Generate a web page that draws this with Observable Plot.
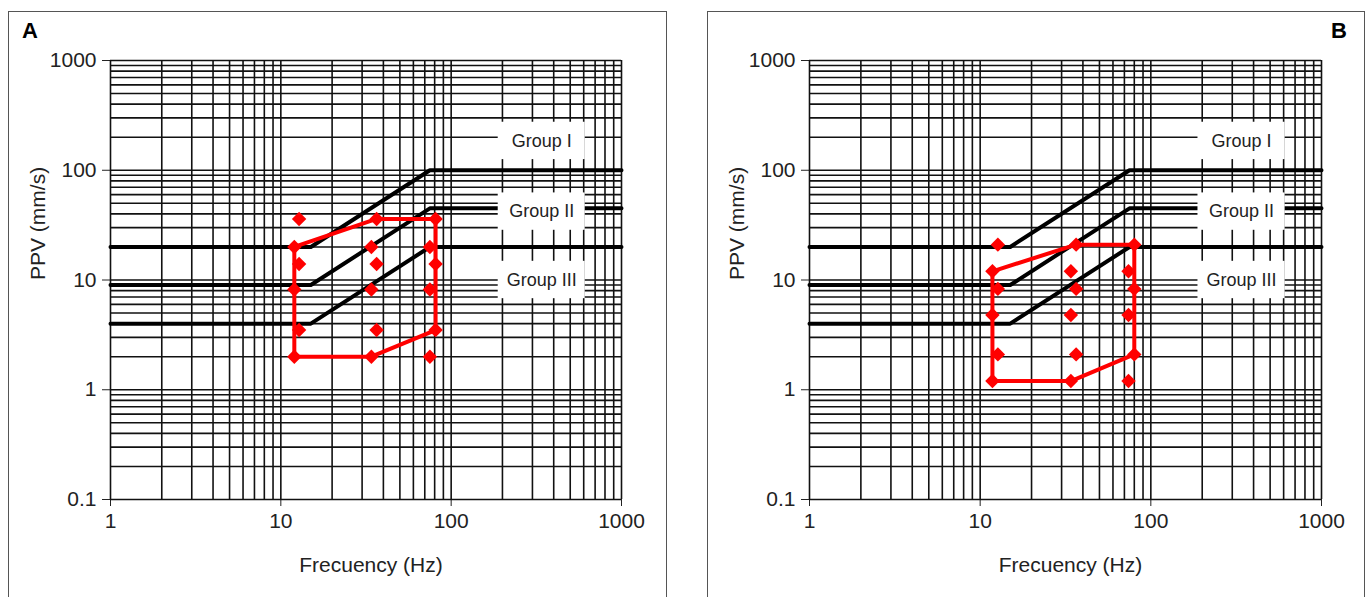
<!DOCTYPE html>
<html><head><meta charset="utf-8">
<script src="https://cdn.jsdelivr.net/npm/d3@7"></script>
<script src="https://cdn.jsdelivr.net/npm/@observablehq/plot@0.6"></script>
<style>
body{margin:0;background:#fff;width:1368px;height:597px;overflow:hidden;position:relative;font-family:"Liberation Sans",Arial,sans-serif;}
.frame{position:absolute;border:1px solid #555;box-sizing:border-box;}
.tag{position:absolute;font-weight:bold;font-size:22px;line-height:22px;color:#000;}
.chart{position:absolute;top:0;}
</style></head><body>
<div class="frame" style="left:8px;top:11px;width:659px;height:700px"></div>
<div class="frame" style="left:707px;top:11px;width:658px;height:700px"></div>
<div class="tag" style="left:22px;top:20px">A</div>
<div class="tag" style="left:1331px;top:20px">B</div>
<div id="a" class="chart" style="left:0px"></div>
<div id="b" class="chart" style="left:700px"></div>
<script>
// Limit curves (UNE 22381 style)
const groups = ["Group I", "Group II", "Group III"];
const limitFreq = [1, 15, 75, 1000];
const groupI_ppv = [20, 20, 100, 100];
const groupII_ppv = [9, 9, 45, 45];
const groupIII_ppv = [4, 4, 20, 20];
const labelFreq = 340;
const labelPPV = [185, 42, 10];

const xTickValues = [1, 10, 100, 1000];
const yTickValues = [0.1, 1, 10, 100, 1000];
const xLabel = "Frecuency (Hz)";
const yLabel = "PPV (mm/s)";

// Panel A
const pointsA_freq = [12.8, 12, 12.8, 12, 12.8, 12, 36.5, 34, 36.5, 34, 36.5, 34, 81, 75, 81, 75, 81, 75];
const pointsA_ppv  = [36, 20, 14, 8.2, 3.5, 2, 36, 20, 14, 8.2, 3.5, 2, 36, 20, 14, 8.2, 3.5, 2];
const polyA_freq = [12, 36.5, 81, 81, 34, 12, 12];
const polyA_ppv  = [20, 36, 36, 3.5, 2, 2, 20];

// Panel B
const pointsB_freq = [12.7, 11.8, 12.7, 11.8, 12.7, 11.8, 36.5, 34, 36.5, 34, 36.5, 34, 80, 74, 80, 74, 80, 74];
const pointsB_ppv  = [21, 12, 8.3, 4.8, 2.1, 1.2, 21, 12, 8.3, 4.8, 2.1, 1.2, 21, 12, 8.3, 4.8, 2.1, 1.2];
const polyB_freq = [11.8, 36.5, 80, 80, 34, 11.8, 11.8];
const polyB_ppv  = [12, 21, 21, 2.1, 1.2, 1.2, 12];

function chart({width, marginLeft, marginRight, ptsF, ptsP, polyF, polyP}) {
  const limits = [];
  [groupI_ppv, groupII_ppv, groupIII_ppv].forEach((arr, g) =>
    limitFreq.forEach((f, i) => limits.push({group: groups[g], f, v: arr[i]})));
  const labels = groups.map((g, i) => ({g, f: labelFreq, v: labelPPV[i]}));
  const pts = ptsF.map((f, i) => ({f, v: ptsP[i]}));
  const poly = polyF.map((f, i) => ({f, v: polyP[i]}));
  const xGrid = d3.scaleLog().domain([1, 1000]).ticks(40);
  const yGrid = d3.scaleLog().domain([0.1, 1000]).ticks(60);
  return Plot.plot({
    width, height: 597, marginLeft, marginRight, marginTop: 60, marginBottom: 98,
    style: {background: "transparent", fontFamily: "'Liberation Sans', Arial, sans-serif", fontSize: "21px", color: "#222", overflow: "visible"},
    x: {type: "log", domain: [1, 1000], ticks: xTickValues, tickFormat: d => String(d), tickSize: 7, tickPadding: 7, label: null},
    y: {type: "log", domain: [0.1, 1000], ticks: yTickValues, tickFormat: d => String(d), tickSize: 8, tickPadding: 6, label: null},
    marks: [
      Plot.ruleX(xGrid, {stroke: "#111", strokeWidth: 1.6}),
      Plot.ruleY(yGrid, {stroke: "#111", strokeWidth: 1.6}),
      Plot.line(limits, {x: "f", y: "v", z: "group", stroke: "#000", strokeWidth: 4}),
      Plot.rect(labels, {x1: d => d.f / 1.8, x2: d => d.f * 1.8, y1: d => d.v / 1.48, y2: d => d.v * 1.48, fill: "white"}),
      Plot.text(labels, {x: "f", y: "v", text: "g", fontSize: 18, fill: "#222"}),
      Plot.line(poly, {x: "f", y: "v", stroke: "#ff0000", strokeWidth: 4, strokeLinejoin: "round"}),
      Plot.dot(pts, {x: "f", y: "v", symbol: "diamond2", r: 6.5, fill: "#ff0000"}),
      Plot.text([xLabel], {text: d => d, frameAnchor: "bottom", dy: 72, dx: 5, fontSize: 21, fill: "#222"}),
      Plot.text([yLabel], {text: d => d, frameAnchor: "left", dx: -72, rotate: -90, fontSize: 21, fill: "#222"})
    ]
  });
}

document.getElementById("a").append(chart({width: 680, marginLeft: 110, marginRight: 59,
  ptsF: pointsA_freq, ptsP: pointsA_ppv, polyF: polyA_freq, polyP: polyA_ppv}));
document.getElementById("b").append(chart({width: 668, marginLeft: 109, marginRight: 47,
  ptsF: pointsB_freq, ptsP: pointsB_ppv, polyF: polyB_freq, polyP: polyB_ppv}));
</script>
</body></html>
